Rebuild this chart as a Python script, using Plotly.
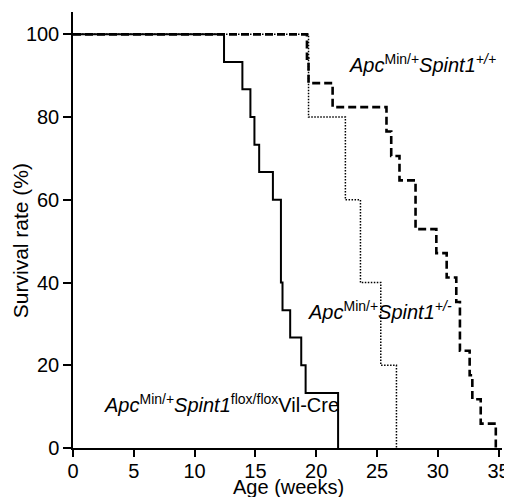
import plotly.graph_objects as go

# Kaplan-Meier step data (weeks, survival %)
flox_weeks = [0, 12.42, 13.93, 14.59, 14.92, 15.31, 16.44, 17.10, 17.23, 17.86, 18.77, 19.13, 21.80]
flox_surv = [100, 93.3, 86.7, 80, 73.3, 66.7, 60, 40, 33.3, 26.7, 20, 13.3, 0]

het_weeks = [0, 19.37, 22.40, 23.64, 25.31, 26.60]
het_surv = [100, 80, 60, 40, 20, 0]

wt_weeks = [0, 19.24, 19.37, 21.35, 25.78, 26.17, 26.85, 28.17, 29.88, 30.73,
            31.52, 31.82, 32.62, 32.84, 33.53, 34.77]
wt_surv = [100, 94.1, 88.2, 82.4, 76.5, 70.6, 64.7, 52.9, 47.1, 41.2,
           35.3, 23.5, 17.6, 11.8, 5.9, 0]

x_ticks = [0, 5, 10, 15, 20, 25, 30, 35]
y_ticks = [0, 20, 40, 60, 80, 100]

FONT = "Arial, Liberation Sans, Helvetica, sans-serif"

fig = go.Figure()
fig.add_trace(go.Scatter(x=het_weeks, y=het_surv, mode="lines", line_shape="hv",
                         line=dict(color="black", width=1.5, dash="1.5px,1.5px"),
                         showlegend=False, hoverinfo="skip"))
fig.add_trace(go.Scatter(x=wt_weeks, y=wt_surv, mode="lines", line_shape="hv",
                         line=dict(color="black", width=2.6, dash="8px,4px"),
                         showlegend=False, hoverinfo="skip"))
fig.add_trace(go.Scatter(x=flox_weeks, y=flox_surv, mode="lines", line_shape="hv",
                         line=dict(color="black", width=2),
                         showlegend=False, hoverinfo="skip"))

ann_font = dict(family=FONT, size=20, color="black")
fig.add_annotation(x=22.5, y=93.0, xref="x", yref="y", xanchor="left", yanchor="middle",
                   text="<i>Apc</i><sup>Min/+</sup><i>Spint1<sup>+/+</sup></i>",
                   showarrow=False, font=ann_font)
fig.add_annotation(x=19.2, y=33.3, xref="x", yref="y", xanchor="left", yanchor="middle",
                   text="<i>Apc</i><sup>Min/+</sup><i>Spint1<sup>+/-</sup></i>",
                   showarrow=False, font=ann_font)
fig.add_annotation(x=2.4, y=10.8, xref="x", yref="y", xanchor="left", yanchor="middle",
                   text="<i>Apc</i><sup>Min/+</sup><i>Spint1</i><sup>flox/flox</sup>Vil-Cre",
                   showarrow=False, font=ann_font)

# axis titles placed as paper annotations
fig.add_annotation(x=0.5026, y=-0.090, xref="paper", yref="paper",
                   xanchor="center", yanchor="middle", text="Age (weeks)",
                   showarrow=False, font=dict(family=FONT, size=20, color="black"))
fig.add_annotation(x=-0.1235, y=0.4744, xref="paper", yref="paper",
                   xanchor="center", yanchor="middle", text="Survival rate (%)",
                   textangle=-90, showarrow=False,
                   font=dict(family=FONT, size=21, color="black"))

# page body has an 8px margin, so the figure is sized/offset to compensate
fig.update_layout(
    width=504, height=489,
    margin=dict(l=65, r=10, t=4, b=49, autoexpand=False),
    paper_bgcolor="white", plot_bgcolor="white",
    font=dict(family=FONT, size=20, color="black"),
    xaxis=dict(range=[0, 35.28], tickvals=x_ticks, ticktext=[str(v) for v in x_ticks],
               showline=True, linecolor="black", linewidth=1.5,
               ticks="outside", ticklen=7, tickwidth=1.5, tickcolor="black",
               showgrid=False, zeroline=False, automargin=False,
               ticklabelstandoff=-3,
               tickfont=dict(size=20)),
    yaxis=dict(range=[0, 105.4], tickvals=y_ticks, ticktext=[str(v) for v in y_ticks],
               showline=True, linecolor="black", linewidth=1.5,
               ticks="outside", ticklen=8, tickwidth=1.5, tickcolor="black",
               showgrid=False, zeroline=False, automargin=False,
               tickfont=dict(size=20)),
)

fig.write_html("out.html")
